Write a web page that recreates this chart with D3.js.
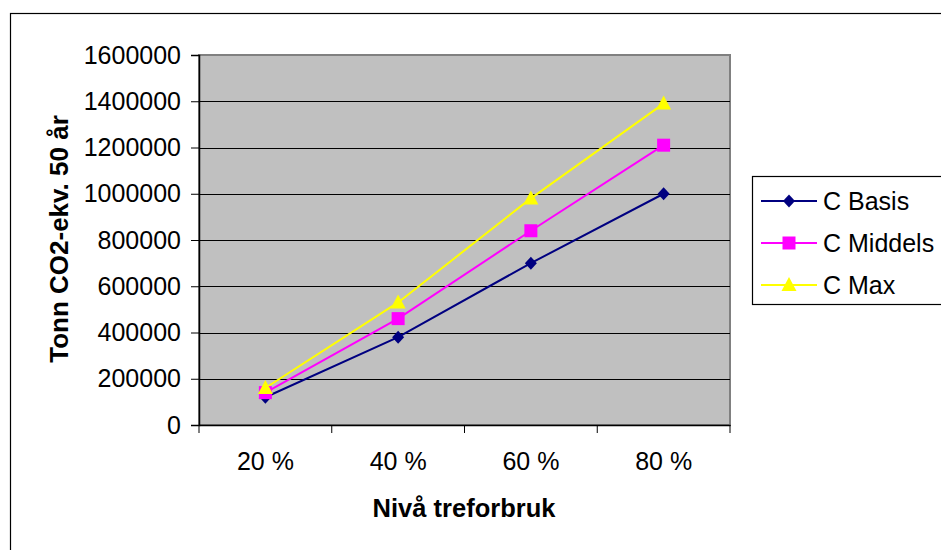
<!DOCTYPE html>
<html><head><meta charset="utf-8">
<script src="https://cdn.jsdelivr.net/npm/d3@7"></script>
<style>body{margin:0;background:#fff;overflow:hidden}svg{display:block;font-family:Arial,"Liberation Sans",sans-serif}</style>
</head><body><svg id="c" width="941" height="550"></svg>
<script>
const categories = ["20 %", "40 %", "60 %", "80 %"];
const seriesNames = ["C Basis", "C Middels", "C Max"];
const basis = [120000, 380000, 700000, 1000000];
const middels = [140000, 460000, 840000, 1210000];
const maxv = [160000, 530000, 980000, 1390000];
const yTicks = [0, 200000, 400000, 600000, 800000, 1000000, 1200000, 1400000, 1600000];
const colors = ["#000080", "#FF00FF", "#FFFF00"];

const svg = d3.select("#c");
const FONT = "Arial, 'Liberation Sans', sans-serif";
// outer chart border
svg.append("rect").attr("x", 10.5).attr("y", 13.5).attr("width", 1000).attr("height", 600)
  .attr("fill", "#fff").attr("stroke", "#000").attr("stroke-width", 1.2);

const L = 199, R = 730, T = 55, B = 425;
const x = d3.scaleBand().domain(categories).range([L, R]);
const y = d3.scaleLinear().domain([0, 1600000]).range([B, T]);

svg.append("rect").attr("x", L).attr("y", T).attr("width", R - L).attr("height", B - T)
  .attr("fill", "#C0C0C0").attr("stroke", "#808080").attr("stroke-width", 2);

// gridlines
svg.append("g").selectAll("line").data(yTicks.filter(d => d > 0 && d < 1600000)).join("line")
  .attr("x1", L).attr("x2", R).attr("y1", d => Math.round(y(d)) + 0.5).attr("y2", d => Math.round(y(d)) + 0.5)
  .attr("stroke", "#000").attr("stroke-width", 1);

// y axis
const ya = svg.append("g").attr("transform", `translate(${L},0)`)
  .call(d3.axisLeft(y).tickValues(yTicks).tickFormat(d3.format("d")).tickSize(8).tickPadding(10));
ya.select(".domain").attr("stroke", "#000").attr("stroke-width", 1.5);
ya.selectAll("text").attr("font-size", 25).attr("fill", "#000").attr("font-family", FONT);

// x axis
const xa = svg.append("g").attr("transform", `translate(0,${B})`)
  .call(d3.axisBottom(x).tickSize(0).tickPadding(27));
xa.select(".domain").attr("stroke", "#000").attr("stroke-width", 1.5);
xa.selectAll("text").attr("font-size", 25).attr("fill", "#000").attr("font-family", FONT);
const bounds = categories.map(c => x(c)).concat([R]);
xa.append("g").selectAll("line").data(bounds).join("line")
  .attr("x1", d => d).attr("x2", d => d).attr("y1", 0).attr("y2", 8).attr("stroke", "#000");

// marker shapes
function marker(sel, k) {
  if (k === 0) sel.attr("d", "M0,-6.5L6,0L0,6.5L-6,0Z");
  else if (k === 1) sel.attr("d", "M-6.5,-6.5H6.5V6.5H-6.5Z");
  else sel.attr("d", "M0,-8L7.5,6L-7.5,6Z");
  return sel;
}

// series
const data = [basis, middels, maxv];
const cx = i => x(categories[i]) + x.bandwidth() / 2;
const line = d3.line().x((d, i) => cx(i)).y(d => y(d));
data.forEach((s, k) => {
  svg.append("path").datum(s).attr("d", line).attr("fill", "none").attr("stroke", colors[k]).attr("stroke-width", 2);
});
data.forEach((s, k) => {
  svg.append("g").selectAll("path").data(s).join("path")
    .attr("transform", (d, i) => `translate(${cx(i)},${y(d)})`)
    .call(sel => marker(sel, k)).attr("fill", colors[k]);
});

// axis titles
svg.append("text").attr("x", 464).attr("y", 517).attr("text-anchor", "middle")
  .attr("font-size", 25.5).attr("font-weight", "bold").text("Nivå treforbruk");
svg.append("text").attr("transform", "translate(68,239) rotate(-90)").attr("text-anchor", "middle")
  .attr("font-size", 26).attr("font-weight", "bold").text("Tonn CO2-ekv. 50 år");

// legend
const lg = svg.append("g");
lg.append("rect").attr("x", 752.5).attr("y", 176.5).attr("width", 300).attr("height", 128)
  .attr("fill", "#fff").attr("stroke", "#000").attr("stroke-width", 1.2);
seriesNames.forEach((n, k) => {
  const cy = 201 + k * 42;
  lg.append("line").attr("x1", 761).attr("x2", 817).attr("y1", cy).attr("y2", cy).attr("stroke", colors[k]).attr("stroke-width", 2);
  lg.append("path").attr("transform", `translate(789,${cy})`).call(sel => marker(sel, k)).attr("fill", colors[k]);
  lg.append("text").attr("x", 823).attr("y", cy + 9).attr("font-size", 25).text(n);
});
</script></body></html>
